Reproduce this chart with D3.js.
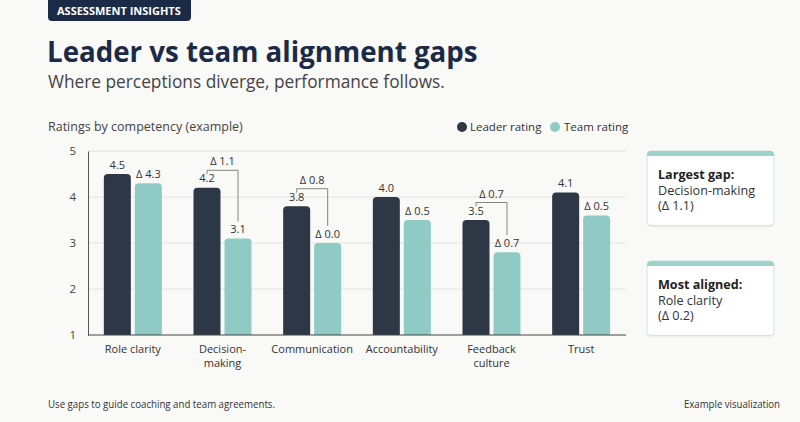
<!DOCTYPE html>
<html><head><meta charset="utf-8">
<script src="https://cdn.jsdelivr.net/npm/d3@7"></script>
<style>
html,body{margin:0;padding:0;background:#f9f9f8;}
svg{display:block;font-family:"Open Sans",sans-serif;}
</style></head>
<body>
<svg id="c" width="800" height="422"></svg>
<script>
const categories = ["Role clarity", "Decision-\nmaking", "Communication", "Accountability", "Feedback\nculture", "Trust"];
const leaderValues = [4.5, 4.2, 3.8, 4.0, 3.5, 4.1];
const teamValues = [4.3, 3.1, 3.0, 3.5, 2.8, 3.6];
const teamLabels = ["Δ 4.3", "3.1", "Δ 0.0", "Δ 0.5", "Δ 0.7", "Δ 0.5"];
const gapBrackets = [null, "Δ 1.1", "Δ 0.8", null, "Δ 0.7", null];
const yTicks = [1, 2, 3, 4, 5];
const seriesNames = ["Leader rating", "Team rating"];
const cards = [
  ["Largest gap:", "Decision-making", "(Δ 1.1)"],
  ["Most aligned:", "Role clarity", "(Δ 0.2)"]
];

const C_LEAD = "#2d3745", C_TEAM = "#8fcbc4", C_NAVY = "#1b2b47";
const svg = d3.select("#c");

// badge
svg.append("path").attr("d", "M48,0 H191 V17 Q191,21 187,21 H52 Q48,21 48,17 Z").attr("fill", C_NAVY);
svg.append("text").attr("x", 57).attr("y", 15).attr("fill", "#fff").attr("font-size", 11).attr("font-weight", 700).text("ASSESSMENT INSIGHTS");
svg.append("text").attr("x", 47).attr("y", 62).attr("fill", C_NAVY).attr("font-size", 27.7).attr("font-weight", 700).text("Leader vs team alignment gaps");
svg.append("text").attr("x", 48).attr("y", 88).attr("fill", "#444").attr("font-size", 17.3).text("Where perceptions diverge, performance follows.");
svg.append("text").attr("x", 48).attr("y", 131).attr("fill", "#444").attr("font-size", 12.5).text("Ratings by competency (example)");

// legend
const leg = [[462, 470, C_LEAD], [555, 564, C_TEAM]];
leg.forEach((l, i) => {
  svg.append("circle").attr("cx", l[0]).attr("cy", 127).attr("r", 5).attr("fill", l[2]);
  svg.append("text").attr("x", l[1]).attr("y", 131).attr("font-size", 11.5).attr("fill", "#333").text(seriesNames[i]);
});

const x = d3.scaleBand().domain(categories).range([88, 626]).padding(0);
const y = d3.scaleLinear().domain([1, 5]).range([335, 151]);
const bw = 27, gap = 4;

// grid
svg.append("g").selectAll("line").data(yTicks.filter(t => t > 1)).join("line")
  .attr("x1", 88).attr("x2", 626).attr("y1", d => y(d)).attr("y2", d => y(d))
  .attr("stroke", "#e2e2e2").attr("stroke-width", 1);

// y axis
const yAxis = svg.append("g").attr("transform", "translate(88,0)")
  .call(d3.axisLeft(y).tickValues(yTicks).tickSize(0).tickPadding(12).tickFormat(d3.format("d")));
yAxis.select(".domain").attr("stroke", "#555");
yAxis.selectAll("text").attr("font-size", 11.5).attr("fill", "#444").attr("font-family", "Open Sans");

function barPath(x0, w, top, bottom, r) {
  return `M${x0},${bottom} V${top + r} Q${x0},${top} ${x0 + r},${top} H${x0 + w - r} Q${x0 + w},${top} ${x0 + w},${top + r} V${bottom} Z`;
}
const cx = c => x(c) + x.bandwidth() / 2;
const lx = c => cx(c) - gap / 2 - bw;
const tx = c => cx(c) + gap / 2;

categories.forEach((c, i) => {
  svg.append("path").attr("d", barPath(lx(c), bw, y(leaderValues[i]), y(1), 4)).attr("fill", C_LEAD);
  svg.append("path").attr("d", barPath(tx(c), bw, y(teamValues[i]), y(1), 4)).attr("fill", C_TEAM);
  svg.append("text").attr("x", lx(c) + bw / 2).attr("y", y(leaderValues[i]) - 5.5).attr("text-anchor", "middle")
    .attr("font-size", 11).attr("fill", "#333").text(leaderValues[i].toFixed(1));
  svg.append("text").attr("x", tx(c) + bw / 2).attr("y", y(teamValues[i]) - 5).attr("text-anchor", "middle")
    .attr("font-size", 11).attr("fill", "#333").text(teamLabels[i]);
  if (gapBrackets[i]) {
    const by = y(leaderValues[i]) - 17.5;
    const x1 = lx(c) + bw / 2, x2 = tx(c) + bw / 2;
    const ey = y(teamValues[i]) - 17;
    svg.append("path").attr("d", `M${x1},${by + 4} V${by} H${x2} V${ey}`)
      .attr("fill", "none").attr("stroke", "#777").attr("stroke-width", 0.9);
    svg.append("text").attr("x", cx(c)).attr("y", by - 5).attr("text-anchor", "middle")
      .attr("font-size", 11).attr("fill", "#333").text(gapBrackets[i]);
  }
});

// baseline
svg.append("line").attr("x1", 88).attr("x2", 626).attr("y1", y(1)).attr("y2", y(1)).attr("stroke", "#444").attr("stroke-width", 1);

// x labels
categories.forEach(c => {
  const t = svg.append("text").attr("x", cx(c)).attr("y", 353).attr("text-anchor", "middle").attr("font-size", 11).attr("fill", "#333");
  c.split("\n").forEach((s, j) => t.append("tspan").attr("x", cx(c)).attr("dy", j ? 14 : 0).text(s));
});

// cards
const cardY = [151, 261];
cards.forEach((lines, i) => {
  const g = svg.append("g").attr("transform", `translate(647,${cardY[i]})`);
  g.append("rect").attr("x", 0).attr("y", 1).attr("width", 127).attr("height", 74).attr("rx", 4)
    .attr("fill", "#000").attr("opacity", 0.04).attr("transform", "translate(0,1.5)");
  g.append("rect").attr("width", 127).attr("height", 74.5).attr("rx", 4).attr("fill", "#fff").attr("stroke", "#cfe3e0").attr("stroke-width", 1);
  g.append("path").attr("d", "M0,4 Q0,0 4,0 H123 Q127,0 127,4 V5 H0 Z").attr("fill", "#9fd2cb");
  lines.forEach((s, j) => {
    g.append("text").attr("x", 11).attr("y", 28 + j * 15.5).attr("font-size", 12.6)
      .attr("font-weight", j === 0 ? 700 : 400).attr("fill", j === 0 ? "#222" : "#333").text(s);
  });
});

// footer
svg.append("text").attr("x", 48).attr("y", 408).attr("font-size", 10).attr("fill", "#333")
  .attr("textLength", 227).attr("lengthAdjust", "spacingAndGlyphs").text("Use gaps to guide coaching and team agreements.");
svg.append("text").attr("x", 780).attr("y", 408).attr("font-size", 10).attr("fill", "#333").attr("text-anchor", "end")
  .attr("textLength", 96).attr("lengthAdjust", "spacingAndGlyphs").text("Example visualization");
</script>
</body></html>
